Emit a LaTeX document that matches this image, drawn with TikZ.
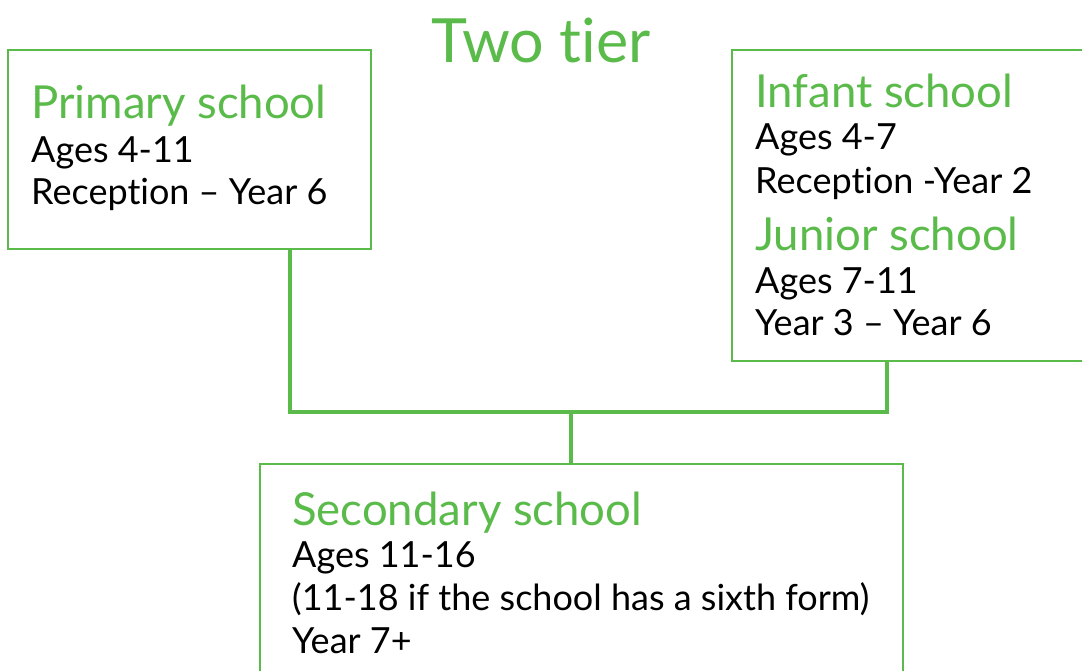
\documentclass[tikz,border=0pt]{standalone}
\usepackage{fontspec}
\setmainfont[Ligatures=NoCommon]{Lato}
\definecolor{tgreen}{RGB}{90,187,75}
\begin{document}
\begin{tikzpicture}[x=1pt,y=-1pt,
  box/.style={draw=tgreen,line width=2.5pt,fill=none},
  conn/.style={draw=tgreen,line width=4.5pt},
  head/.style={anchor=base west,inner sep=0pt,text=tgreen,font=\fontsize{45.5}{46}\selectfont},
  body/.style={anchor=base west,inner sep=0pt,text=black,font=\fontsize{36}{42}\selectfont},
  title/.style={anchor=base,inner sep=0pt,text=tgreen,font=\fontsize{61}{61}\selectfont}]
\useasboundingbox (0,0) rectangle (1082,670);
\clip (0,0) rectangle (1082,670);
\node[title] (title) at (541,62) {Two tier};
% boxes
\draw[box] (8,50) rectangle (371,249);
\coordinate (primbot) at (290,249);
\draw[box] (732,50) rectangle (1095,361);
\coordinate (juniorbot) at (887,361);
\draw[box] (260,464) rectangle (903,690);
\coordinate (sectop) at (571,464);
% texts
\node[head] (ph) at (31,118) {Primary school};
\node[body] (p1) at (31,162) {Ages 4-11};
\node[body] (p2) at (31,204) {Reception – Year 6};
\node[head] (ih) at (755,107) {Infant school};
\node[body] (i1) at (755,149) {Ages 4-7};
\node[body] (i2) at (755,193) {Reception -Year 2};
\node[head] (jh) at (755,250) {Junior school};
\node[body] (j1) at (755,293) {Ages 7-11};
\node[body] (j2) at (755,335) {Year 3 – Year 6};
\node[head] (sh) at (292,525) {Secondary school};
\node[body] (s1) at (292,567) {Ages 11-16};
\node[body] (s2) at (292,610) {(11-18 if the school has a sixth form)};
\node[body] (s3) at (292,653) {Year 7+};
% connectors
\coordinate (jn) at (571,412);
\draw[conn] (primbot) |- (jn) -| (juniorbot);
\draw[conn] (jn) -- (sectop);
\end{tikzpicture}
\end{document}
